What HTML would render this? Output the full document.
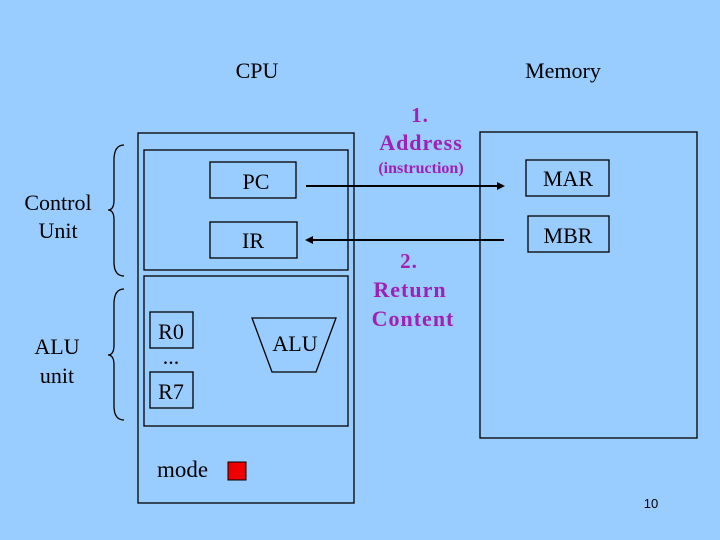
<!DOCTYPE html>
<html><head><style>
body{margin:0;width:720px;height:540px;background:#99ccff;overflow:hidden;}
svg{display:block}
text{font-family:"Liberation Serif",serif;}
</style></head><body>
<svg width="720" height="540" viewBox="0 0 720 540">
<g fill="none" stroke="#000" stroke-width="1.3">
<rect x="138" y="133" width="216" height="370"/>
<rect x="144" y="150" width="204" height="120"/>
<rect x="144" y="276" width="204" height="150"/>
<rect x="210" y="162" width="86" height="36"/>
<rect x="210" y="222" width="87" height="36"/>
<rect x="150" y="312" width="43" height="36"/>
<rect x="150" y="372" width="43" height="36"/>
<polygon points="252,318 336,318 316,372 272,372"/>
<rect x="480" y="132" width="217" height="306"/>
<rect x="526" y="160" width="83" height="36"/>
<rect x="528" y="216" width="81" height="36"/>
<path d="M124,145 Q114,145 114,160 L114,200 Q114,210 108,210 Q114,210 114,220 L114,262 Q114,276 124,276"/>
<path d="M124,289 Q114,289 114,304 L114,345 Q114,355 108,355 Q114,355 114,365 L114,406 Q114,420 124,420"/>
</g>
<g stroke="#000" stroke-width="2">
<line x1="306" y1="186" x2="500" y2="186"/>
<line x1="310" y1="240" x2="504" y2="240"/>
</g>
<polygon points="505,186 497,182 497,190" fill="#000"/>
<polygon points="305,240 313,236 313,244" fill="#000"/>
<rect x="228" y="462" width="18" height="18" fill="#ee0000" stroke="#000"/>
<g font-size="22" fill="#000">
<text x="257" y="78" text-anchor="middle">CPU</text>
<text x="563" y="78" text-anchor="middle">Memory</text>
<text x="256" y="189" text-anchor="middle">PC</text>
<text x="253" y="248" text-anchor="middle">IR</text>
<text x="568" y="186" text-anchor="middle">MAR</text>
<text x="568" y="243" text-anchor="middle">MBR</text>
<text x="171" y="339" text-anchor="middle">R0</text>
<text x="171" y="364" text-anchor="middle">...</text>
<text x="171" y="399" text-anchor="middle">R7</text>
<text x="295" y="351" text-anchor="middle">ALU</text>
<text x="58" y="210" text-anchor="middle">Control</text>
<text x="58" y="238" text-anchor="middle">Unit</text>
<text x="57" y="354" text-anchor="middle">ALU</text>
<text x="57" y="383" text-anchor="middle">unit</text>
<text x="157" y="477" font-size="23">mode</text>
</g>
<g fill="#a020b8" font-weight="bold" text-anchor="middle" letter-spacing="1">
<text x="420" y="122" font-size="21">1.</text>
<text x="421" y="150" font-size="22">Address</text>
<text x="421" y="173" font-size="16" letter-spacing="0">(instruction)</text>
<text x="409" y="268" font-size="21">2.</text>
<text x="410" y="297" font-size="22">Return</text>
<text x="413" y="326" font-size="22">Content</text>
</g>
<text x="651" y="508" font-size="13" text-anchor="middle" style="font-family:'Liberation Sans',sans-serif">10</text>
</svg>
</body></html>
